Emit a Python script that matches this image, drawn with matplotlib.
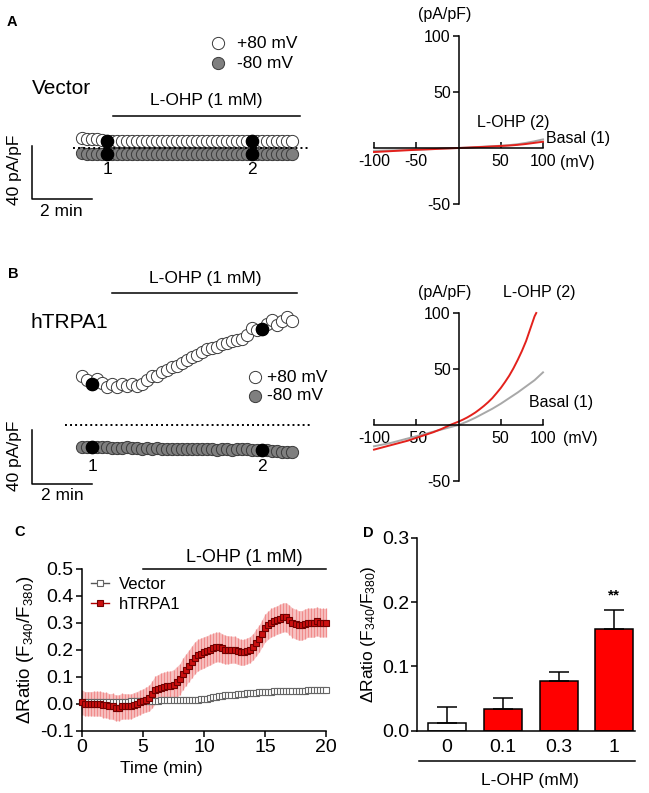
import numpy as np
import matplotlib
matplotlib.use('Agg')
import matplotlib.pyplot as plt

plt.rcParams['font.family'] = ['Liberation Sans', 'DejaVu Sans']
plt.rcParams['mathtext.fontset'] = 'custom'
plt.rcParams['mathtext.rm'] = 'Liberation Sans'
plt.rcParams['mathtext.default'] = 'regular'
plt.rcParams['axes.linewidth'] = 1.1
plt.rcParams['axes.unicode_minus'] = False


# ---- data ----

# A / B: current at +80 and -80 mV every 10 s (pA/pF)
a_pos = [7, 6.5, 6.5, 6, 5.5, 5, 5, 5, 5, 4.5, 5, 5, 5, 5, 4.5, 5, 5, 5, 5, 4.5, 5, 5,
         5, 5, 5, 4.5, 5, 5, 5, 5, 5, 5, 4.5, 5, 5, 5, 5, 5, 5, 4.5, 5, 5, 5]
a_neg = [-4, -4.5, -4.5, -4.5, -4.5, -4.5, -4.5, -4.5, -4.5, -4.5, -4.5, -4.5, -4.5, -4.5,
         -4.5, -4.5, -4.5, -4.5, -4.5, -4.5, -4.5, -4.5, -4.5, -4.5, -4.5, -4.5, -4.5, -4.5,
         -4.5, -4.5, -4.5, -4.5, -4.5, -4.5, -4.5, -4.5, -4.5, -5, -5, -5, -5, -5, -5]
b_pos = [36, 33, 30, 34, 31, 28, 30, 28, 30, 29, 30, 29, 30, 33, 36, 36, 39, 41, 43, 44, 46, 48,
         50, 52, 54, 56, 57, 58, 60, 61, 62, 63, 64, 67, 72, 70, 71, 75, 78, 74, 77, 80, 77]
b_neg = [-16, -16, -16.5, -16, -16.5, -16.5, -17, -17, -17, -16.5, -17, -17, -17.5, -17, -17.5,
         -17, -17.5, -17.5, -17.5, -18, -17.5, -18, -17.5, -18, -18, -18, -17.5, -18.5, -18,
         -18, -18.5, -18, -17.5, -18, -18.5, -18.5, -18.5, -18.5, -19, -19.5, -20, -20, -20]
a_marks = [5, 34]
b_marks = [2, 36]

# I-V curves (mV, pA/pF)
iv_v = [-100, -90, -80, -70, -60, -50, -40, -30, -20, -10, 0, 10, 20, 30, 40, 50, 60, 70, 80, 90, 100]
a_basal = [-2.5, -2.3, -2.1, -1.9, -1.7, -1.5, -1.2, -0.9, -0.6, -0.3, 0, 0.4, 0.8, 1.2, 1.6,
           2.0, 2.6, 3.4, 4.6, 6.0, 7.7]
a_lohp = [-3.6, -3.2, -2.8, -2.4, -2.0, -1.6, -1.3, -1.0, -0.6, -0.3, 0, 0.3, 0.7, 1.0, 1.4,
          1.8, 2.2, 2.8, 3.6, 4.6, 5.6]
b_basal = [-19, -17.5, -16, -14, -12, -10, -8, -6, -4, -2, 0, 3, 6.5, 10.5, 14.5, 19, 24, 29,
           34.5, 40, 47]
b_lohp_v = [-100, -90, -80, -70, -60, -50, -40, -30, -20, -10, 0, 5, 10, 15, 20, 25, 30, 35,
            40, 45, 50, 55, 60, 65, 70, 75, 80, 85, 90, 92]
b_lohp = [-22, -20, -18, -16, -14, -11.5, -9, -6.5, -3.5, 0, 3, 4.7, 6.6, 8.8, 11.2, 14, 17,
          20.3, 24, 28.4, 33, 38.3, 44, 50.6, 58, 66, 75, 86, 97, 100]

# C: Ca2+ imaging, every 15 s
vector = [0.005, 0.005, 0.005, 0.005, 0.005, 0.005, 0.005, 0.005, 0.005,
          0.006, 0.006, 0.007, 0.007, 0.008, 0.008, 0.008, 0.009, 0.009, 0.01, 0.01, 0.01,
          0.01, 0.01, 0.011, 0.011, 0.011, 0.012, 0.012, 0.012, 0.012, 0.013, 0.013, 0.013,
          0.013, 0.014, 0.014, 0.014, 0.015, 0.015, 0.016, 0.017,
          0.019, 0.021, 0.024, 0.026, 0.028, 0.03, 0.031, 0.032,
          0.033, 0.034, 0.035, 0.036, 0.037, 0.038, 0.039, 0.04, 0.041, 0.042, 0.043, 0.044,
          0.045, 0.045, 0.046, 0.046, 0.046, 0.047, 0.047, 0.047, 0.048, 0.048, 0.048, 0.048,
          0.048, 0.049, 0.049, 0.049, 0.05, 0.05, 0.05, 0.05]
htrpa1 = [0.005, 0.0, 0.0, 0.0, 0.0, 0.0, 0.0, -0.005, -0.005,
          -0.01, -0.01, -0.015, -0.015, -0.01, -0.01, -0.01, -0.01, -0.005, 0.0, 0.005, 0.01,
          0.015, 0.02, 0.035, 0.05, 0.055, 0.06, 0.062, 0.065, 0.065, 0.07, 0.08, 0.09,
          0.11, 0.125, 0.14, 0.155, 0.17, 0.18, 0.185, 0.19,
          0.195, 0.2, 0.205, 0.21, 0.21, 0.205, 0.2, 0.2,
          0.2, 0.2, 0.195, 0.19, 0.19, 0.195, 0.2, 0.21, 0.225, 0.24, 0.26, 0.28,
          0.29, 0.3, 0.305, 0.31, 0.315, 0.32, 0.32, 0.31, 0.3, 0.295, 0.29, 0.29,
          0.295, 0.3, 0.3, 0.3, 0.305, 0.3, 0.3, 0.3]
htrpa1_sem = [0.045, 0.045, 0.045, 0.045, 0.046, 0.046, 0.046, 0.047, 0.047,
              0.047, 0.048, 0.048, 0.048, 0.048, 0.047, 0.047, 0.046, 0.046, 0.045, 0.045, 0.045,
              0.046, 0.048, 0.05, 0.052, 0.053, 0.054, 0.055, 0.055, 0.056, 0.056, 0.057, 0.057,
              0.058, 0.058, 0.058, 0.059, 0.059, 0.058, 0.058, 0.058,
              0.057, 0.057, 0.056, 0.055, 0.055, 0.054, 0.053, 0.052,
              0.05, 0.05, 0.049, 0.048, 0.048, 0.048, 0.048, 0.049, 0.05, 0.05, 0.051, 0.052,
              0.052, 0.053, 0.053, 0.053, 0.054, 0.054, 0.054, 0.054, 0.055, 0.055, 0.055, 0.055,
              0.055, 0.054, 0.054, 0.054, 0.053, 0.053, 0.053, 0.053]

# D: dose response
doses = ['0', '0.1', '0.3', '1']
d_mean = [0.0115, 0.034, 0.077, 0.159]
d_err = [0.025, 0.017, 0.014, 0.029]

t_trace = np.arange(len(a_pos)) / 6.0
t_ca = np.arange(len(htrpa1)) * 0.25


# ---- figure ----

W, H = 649, 793
fig = plt.figure(figsize=(W / 100, H / 100), dpi=100)

def box(l, t, r, b):
    ax = fig.add_axes([l / W, 1 - b / H, (r - l) / W, (b - t) / H])
    ax.patch.set_visible(False)
    return ax

# overlay in pixel coords for labels
ov = fig.add_axes([0, 0, 1, 1])
ov.set_xlim(0, W)
ov.set_ylim(H, 0)
ov.axis('off')
ov.set_zorder(10)
ov.patch.set_visible(False)

def tx(x, y, s, size=12.5, **kw):
    ov.text(x, y, s, fontsize=size, ha=kw.pop('ha', 'center'), va=kw.pop('va', 'center'), **kw)

grey = '#7f7f7f'
edge = '#3a3a3a'


def trace_panel(ax, pos, neg, marks, zero_x, bar_y, lab_y):
    ax.set_xlim(-2.067, 7.933)
    ax.axis('off')
    ax.plot(t_trace, neg, 'o', ms=8.8, mfc=grey, mec=edge, mew=0.7, clip_on=False)
    ax.plot(t_trace, pos, 'o', ms=8.8, mfc='white', mec=edge, mew=0.7, clip_on=False)
    ax.plot(zero_x, [0, 0], color='k', lw=1.4, ls=(0, (1, 1.6)), clip_on=False)
    ax.plot(t_trace[marks], np.array(pos)[marks], 'o', ms=8.8, mfc='k', mec='k', clip_on=False)
    ax.plot(t_trace[marks], np.array(neg)[marks], 'o', ms=8.8, mfc='k', mec='k', clip_on=False)
    # scale bar 40 pA/pF, 2 min
    ax.plot([-1.67, -1.67, 0.33], [bar_y + 40, bar_y, bar_y], color='k', lw=1.1, clip_on=False)
    for k, m in enumerate(marks):
        ax.text(t_trace[m], lab_y, str(k + 1), fontsize=12.5, ha='center', va='center')


# A trace
axA = box(20, 120, 320, 215)
axA.set_ylim(-50, 20.4)
trace_panel(axA, a_pos, a_neg, a_marks, [-0.3, 7.6], -38.5, -16.5)

# B trace
axB = box(20, 300, 320, 500)
axB.set_ylim(-55.6, 92.6)
trace_panel(axB, b_pos, b_neg, b_marks, [-0.57, 7.6], -43.7, -30.5)


def iv_panel(ax, curves):
    ax.set_xlim(-100, 100)
    ax.set_ylim(-50, 100)
    for s in ['right', 'top']:
        ax.spines[s].set_visible(False)
    ax.spines['left'].set_position(('data', 0))
    ax.spines['bottom'].set_position(('data', 0))
    ax.set_xticks([-100, -50, 50, 100])
    ax.set_yticks([-50, 50, 100])
    ax.tick_params(axis='x', direction='in', length=4, width=1.1, pad=4, labelsize=11.5)
    ax.tick_params(axis='y', direction='out', length=4, width=1.1, pad=1.5, labelsize=11.5)
    for v, y, c in curves:
        ax.plot(v, y, color=c, lw=1.4, clip_on=False)


axIVa = box(374, 36, 543, 204)
iv_panel(axIVa, [(iv_v, a_basal, '#a8a8a8'), (iv_v, a_lohp, '#e3211c')])
axIVb = box(374, 313, 543, 481)
iv_panel(axIVb, [(iv_v, b_basal, '#a8a8a8'), (b_lohp_v, b_lohp, '#e3211c')])


# C
axC = box(82, 568.7, 326, 730.7)
axC.set_xlim(0, 20)
axC.set_ylim(-0.1, 0.5)
for s in ['right', 'top']:
    axC.spines[s].set_visible(False)
axC.set_xticks([0, 5, 10, 15, 20])
axC.set_yticks([-0.1, 0, 0.1, 0.2, 0.3, 0.4, 0.5])
axC.set_yticklabels(['-0.1', '0.0', '0.1', '0.2', '0.3', '0.4', '0.5'])
axC.tick_params(direction='out', length=4.5, width=1.1, pad=1.5, labelsize=14)
lo = np.array(htrpa1) - np.array(htrpa1_sem)
hi = np.array(htrpa1) + np.array(htrpa1_sem)
axC.fill_between(t_ca, lo, hi, color='#f7c4c4', lw=0, zorder=0)
axC.errorbar(t_ca, htrpa1, yerr=htrpa1_sem, fmt='none', ecolor='#f08c8c', elinewidth=0.9,
             capsize=0, zorder=1, clip_on=False)
lv, = axC.plot(t_ca, vector, '-s', color='#555555', mfc='white', mec='#666666', ms=4,
               mew=0.8, lw=1, zorder=3, clip_on=False, label='Vector')
lh, = axC.plot(t_ca, htrpa1, '-s', color='#b00000', mfc='#cc1010', mec='#700000', ms=5,
               mew=0.8, lw=1, zorder=4, clip_on=False, label='hTRPA1')
axC.legend(handles=[lv, lh], loc='upper left', bbox_to_anchor=(0.035, 0.95), frameon=False,
           fontsize=12, handlelength=1.1, handletextpad=0.6, labelspacing=0.3,
           borderpad=0, borderaxespad=0, markerscale=1.0)
axC.plot([5, 20], [0.5, 0.5], color='k', lw=1.1, clip_on=False)


# D
axD = box(417, 538, 635, 730.7)
axD.set_xlim(-0.54, 3.37)
axD.set_ylim(0, 0.3)
for s in ['right', 'top']:
    axD.spines[s].set_visible(False)
axD.bar(range(4), d_mean, width=0.68, color=['white', '#ff0000', '#ff0000', '#ff0000'],
        edgecolor='k', linewidth=1.1,
        yerr=[np.zeros(4), d_err], error_kw=dict(ecolor='k', elinewidth=1.1, capsize=7, capthick=1.1))
axD.set_xticks(range(4))
axD.set_xticklabels(doses)
axD.set_yticks([0, 0.1, 0.2, 0.3])
axD.set_yticklabels(['0.0', '0.1', '0.2', '0.3'])
axD.tick_params(axis='x', length=0, pad=6, labelsize=14)
axD.tick_params(axis='y', direction='out', length=4, width=1.1, pad=1.5, labelsize=14)
axD.text(3, d_mean[3] + d_err[3] + 0.012, '**', ha='center', va='bottom', fontsize=11, fontweight='bold')


# ---- labels ----
for x, y, s in [(12, 22, 'A'), (13, 274, 'B'), (20, 532, 'C'), (368, 533, 'D')]:
    tx(x, y, s, size=10.5, fontweight='bold')

# A texts
ov.plot([218], [43], 'o', ms=8.8, mfc='white', mec=edge, mew=0.7)
ov.plot([218], [63], 'o', ms=8.8, mfc=grey, mec=edge, mew=0.7)
tx(237, 43, '+80 mV', ha='left')
tx(237, 63, '-80 mV', ha='left')
tx(61, 89, 'Vector', size=15)
tx(206, 100, 'L-OHP (1 mM)')
ov.plot([113, 300], [116, 116], color='k', lw=1.1)
tx(15, 170, '40 pA/pF', rotation=90)
tx(61, 212, '2 min')

# B texts
ov.plot([255], [377], 'o', ms=8.8, mfc='white', mec=edge, mew=0.7)
ov.plot([255], [396], 'o', ms=8.8, mfc=grey, mec=edge, mew=0.7)
tx(267, 377, '+80 mV', ha='left')
tx(267, 396, '-80 mV', ha='left')
tx(69, 322, 'hTRPA1', size=15)
tx(205, 278, 'L-OHP (1 mM)')
ov.plot([112, 297], [293, 293], color='k', lw=1.1)
tx(15, 456, '40 pA/pF', rotation=90)
tx(62, 496, '2 min')

# IV texts
tx(445, 15, '(pA/pF)', size=11.5)
tx(513, 123, 'L-OHP (2)', size=11.5)
tx(578, 138, 'Basal (1)', size=11.5)
tx(577, 163, '(mV)', size=11.5)
tx(445, 292, '(pA/pF)', size=11.5)
tx(539, 292, 'L-OHP (2)', size=11.5)
tx(561, 403, 'Basal (1)', size=11.5)
tx(580, 439, '(mV)', size=11.5)

# C texts
tx(244, 558, 'L-OHP (1 mM)', size=13)
tx(161, 768, 'Time (min)', size=12.5)
tx(26, 650, r'$\Delta$Ratio (F$_{340}$/F$_{380}$)', size=13.5, rotation=90)

# D texts
tx(369, 634, r'$\Delta$Ratio (F$_{340}$/F$_{380}$)', size=12.5, rotation=90)
ov.plot([419, 635], [761, 761], color='k', lw=1.1)
tx(530, 780, 'L-OHP (mM)', size=12.5)

fig.savefig('out.png', dpi=100)
